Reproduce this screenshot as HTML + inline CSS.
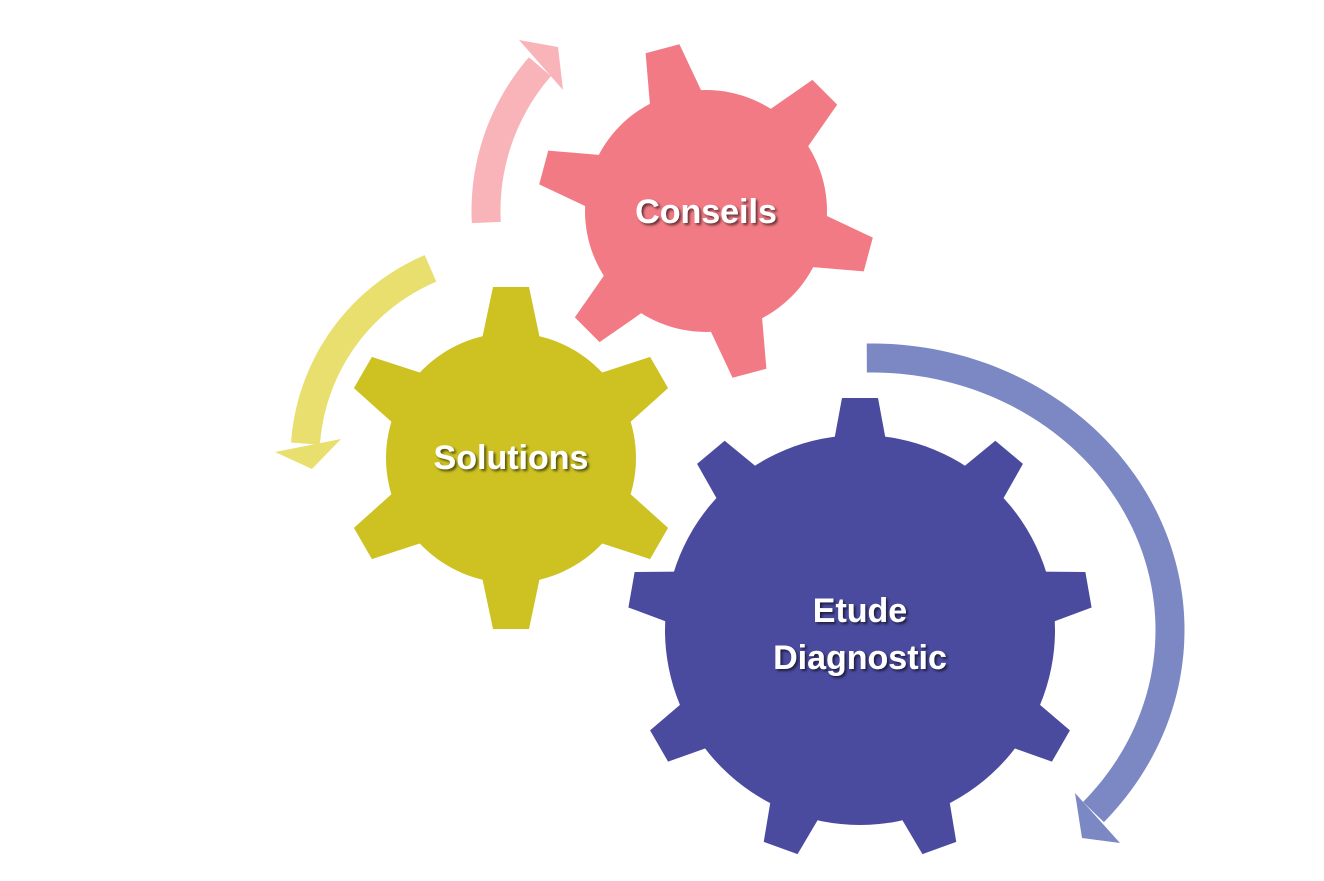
<!DOCTYPE html>
<html><head><meta charset="utf-8"><style>
html,body{margin:0;padding:0;background:#fff;width:1324px;height:881px;overflow:hidden}
svg text{font-family:"Liberation Sans",sans-serif;font-weight:bold;fill:#fff;font-size:34px;text-anchor:middle}
</style></head><body>
<svg id="s" width="1324" height="881" xmlns="http://www.w3.org/2000/svg">
<defs><filter id="sh"><feDropShadow dx="2" dy="2" stdDeviation="1.2" flood-color="#000" flood-opacity="0.6"/></filter></defs>
<g id="arrows"></g>
<g id="gears"></g>
<text x="706" y="223" filter="url(#sh)">Conseils</text>
<text x="511" y="469" filter="url(#sh)">Solutions</text>
<text x="860" y="622" filter="url(#sh)">Etude</text>
<text x="860" y="669" filter="url(#sh)">Diagnostic</text>
</svg>
<script>
var NS="http://www.w3.org/2000/svg";
function el(p,t,a){var e=document.createElementNS(NS,t);for(var k in a)e.setAttribute(k,a[k]);p.appendChild(e);return e;}
var G=document.getElementById('gears'),A=document.getElementById('arrows');
function gear(cx,cy,R,Ro,n,a0,bw,tw,col){
 el(G,'circle',{cx:cx,cy:cy,r:R,fill:col});
 for(var i=0;i<n;i++){var a=(a0+i*360/n)*Math.PI/180;
  var ux=Math.cos(a),uy=-Math.sin(a),px=-uy,py=ux;
  var rb=R-6,pts=[[rb,-bw/2],[Ro,-tw/2],[Ro,tw/2],[rb,bw/2]].map(function(q){return (cx+ux*q[0]+px*q[1])+','+(cy+uy*q[0]+py*q[1]);});
  el(G,'polygon',{points:pts.join(' '),fill:col});}
}
function arcPath(cx,cy,rx,ry,a1,a2,steps){var d='';for(var i=0;i<=steps;i++){var t=(a1+(a2-a1)*i/steps)*Math.PI/180;d+=(i?'L':'M')+(cx+rx*Math.cos(t))+','+(cy+ry*Math.sin(t));}return d;}
el(A,'path',{d:arcPath(706,211,220,220,177,221,60),fill:'none',stroke:'#f9b4ba','stroke-width':29});
el(A,'polygon',{points:'519,40 558,47 563,90',fill:'#f9b4ba'});
el(A,'path',{d:arcPath(511,458,206,206,247,184,60),fill:'none',stroke:'#e8df6e','stroke-width':29});
el(A,'polygon',{points:'275,452 312,469 341,439',fill:'#e8df6e'});
el(A,'path',{d:arcPath(872,630,298,272,-91,42,100),fill:'none',stroke:'#7b88c4','stroke-width':29});
el(A,'polygon',{points:'1075,793 1082,838 1120,843',fill:'#7b88c4'});
gear(706,211,121,168,6,105,54,35,'#f27a84');
gear(511,458,125,171,6,90,58,36,'#cdc221');
gear(860,630,195,232,9,90,52,36,'#4a4a9e');
</script>
</body></html>
